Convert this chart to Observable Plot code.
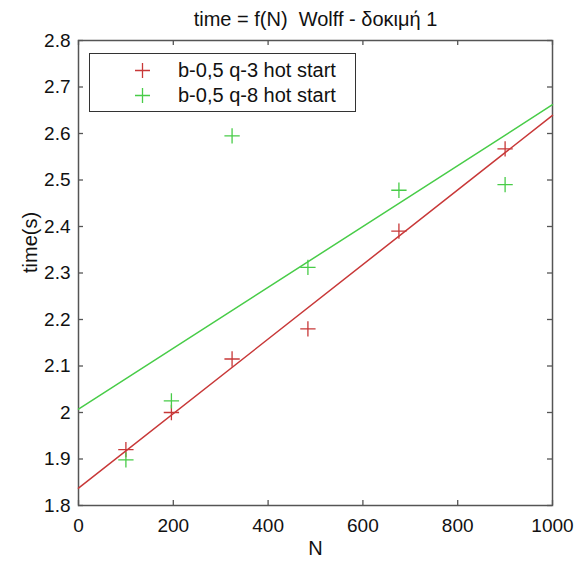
<!DOCTYPE html>
<html>
<head>
<meta charset="utf-8">
<script src="https://cdn.jsdelivr.net/npm/d3@7"></script>
<script src="https://cdn.jsdelivr.net/npm/@observablehq/plot@0.6"></script>
<style>
  body { margin: 0; background: #fff; }
  #wrap { position: relative; width: 577px; height: 562px; font-family: "Liberation Sans", Arial, sans-serif; }
  #legend { position: absolute; left: 89px; top: 53px; width: 267px; height: 59px; border: 1px solid #333; background: #fff; box-sizing: border-box; }
  .row { position: absolute; left: 0; height: 24px; display: flex; align-items: center; font-size: 20px; color: #111; }
  .row svg { margin-left: 45px; margin-right: 28px; }
</style>
</head>
<body>
<div id="wrap"></div>
<script>
const N = [100, 196, 324, 484, 676, 900];
const timeQ3 = [1.92, 2.0, 2.115, 2.18, 2.39, 2.567];
const timeQ8 = [1.898, 2.025, 2.595, 2.312, 2.478, 2.49];
const seriesNames = ["b-0,5 q-3 hot start", "b-0,5 q-8 hot start"];
const seriesColors = ["#c83838", "#48cc48"];
const xTicks = [0, 200, 400, 600, 800, 1000];
const yTicks = [1.8, 1.9, 2.0, 2.1, 2.2, 2.3, 2.4, 2.5, 2.6, 2.7, 2.8];
const xDomain = [0, 1000];
const yDomain = [1.8, 2.8];

function fit(xs, ys) {
  const mx = d3.mean(xs), my = d3.mean(ys);
  let sxy = 0, sxx = 0;
  xs.forEach((x, i) => { sxy += (x - mx) * (ys[i] - my); sxx += (x - mx) ** 2; });
  const b = sxy / sxx, a = my - b * mx;
  return x => a + b * x;
}

const series = [timeQ3, timeQ8];
const points = [];
const lines = [];
series.forEach((ys, s) => {
  N.forEach((n, i) => points.push({N: n, t: ys[i], s}));
  const f = fit(N, ys);
  xDomain.forEach(x => lines.push({N: x, t: f(x), s}));
});

const fmt = d => String(+d.toFixed(1));

const W = 577, H = 562, mL = 78, mR = 25, mT = 40, mB = 57, tick = 5;
const innerW = W - mL - mR, innerH = H - mT - mB;
const axisColor = "#555";

const chart = Plot.plot({
  width: W,
  height: H,
  marginLeft: mL,
  marginRight: mR,
  marginTop: mT,
  marginBottom: mB,
  style: { fontFamily: "Liberation Sans, Arial, sans-serif", fontSize: "19px", color: "#111", background: "#fff" },
  x: { domain: xDomain },
  y: { domain: yDomain },
  marks: [
    Plot.ruleX(xTicks, { x: d => d, insetTop: innerH - tick, stroke: axisColor, strokeWidth: 1.3 }),
    Plot.ruleX(xTicks, { x: d => d, insetBottom: innerH - tick, stroke: axisColor, strokeWidth: 1.3 }),
    Plot.ruleY(yTicks, { y: d => d, insetRight: innerW - tick, stroke: axisColor, strokeWidth: 1.3 }),
    Plot.ruleY(yTicks, { y: d => d, insetLeft: innerW - tick, stroke: axisColor, strokeWidth: 1.3 }),
    Plot.frame({ stroke: axisColor, strokeWidth: 1.5 }),
    Plot.axisX({ ticks: xTicks, tickSize: 0, tickPadding: 13, tickFormat: fmt, label: null, fontSize: 19, fill: "#111" }),
    Plot.axisY({ ticks: yTicks, tickSize: 0, tickPadding: 8, tickFormat: fmt, label: null, fontSize: 19, fill: "#111" }),
    Plot.line(lines, { x: "N", y: "t", z: "s", stroke: d => seriesColors[d.s], strokeWidth: 1.5 }),
    Plot.dot(points, { x: "N", y: "t", symbol: "plus", r: 5, stroke: d => seriesColors[d.s], strokeWidth: 1.3 }),
    Plot.text(["time = f(N)  Wolff - δοκιμή 1"], { frameAnchor: "top", lineAnchor: "middle", dy: -21, fontSize: 20, fill: "#111" }),
    Plot.text(["N"], { frameAnchor: "bottom", lineAnchor: "middle", dy: 43, fontSize: 20, fill: "#111" }),
    Plot.text(["time(s)"], { frameAnchor: "left", dx: -48, rotate: -90, fontSize: 20, fill: "#111" })
  ]
});

const wrap = document.getElementById("wrap");
wrap.appendChild(chart);

const legend = document.createElement("div");
legend.id = "legend";
seriesNames.forEach((name, i) => {
  const row = document.createElement("div");
  row.className = "row";
  row.style.top = (4 + i * 25) + "px";
  const c = seriesColors[i];
  row.innerHTML = `<svg width="15" height="15"><path d="M7.5 0V15M0 7.5H15" stroke="${c}" stroke-width="1.3"/></svg><span>${name}</span>`;
  legend.appendChild(row);
});
wrap.appendChild(legend);
</script>
</body>
</html>
